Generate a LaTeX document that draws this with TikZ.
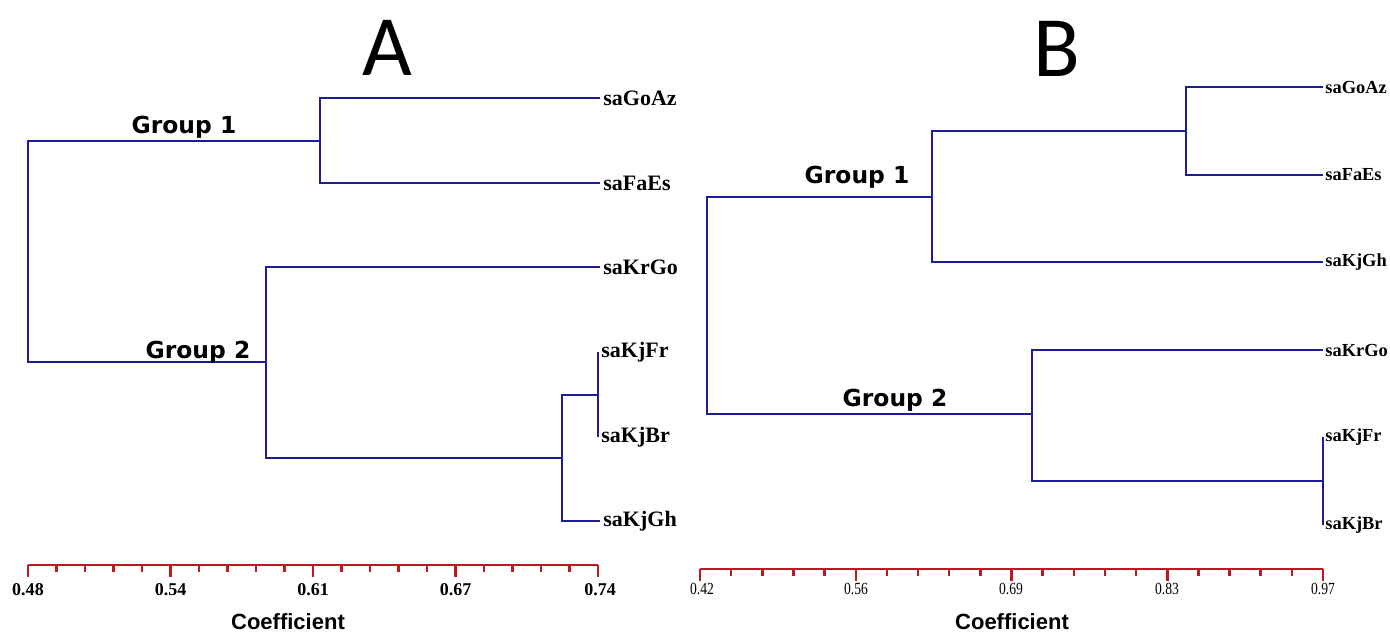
\documentclass[tikz,border=0pt]{standalone}
\usepackage{fontspec}
\usetikzlibrary{calc}
\setmainfont{Liberation Serif}
\newfontfamily\grpfont{DejaVu Sans}
\newfontfamily\titlefont{Carlito}
\newfontfamily\coeffont{Liberation Sans}
\definecolor{treeblue}{RGB}{28,28,150}
\definecolor{axisred}{RGB}{190,25,35}
\begin{document}
\begin{tikzpicture}[x=0.5pt,y=-0.5pt,
  tree/.style={draw=treeblue,line width=1.3pt,line join=miter},
  axisline/.style={draw=axisred,line width=1.25pt},
  leafA/.style={anchor=west,inner xsep=1.5pt,inner ysep=0pt,font=\fontsize{11}{12}\selectfont\bfseries},
  leafB/.style={anchor=west,inner xsep=1pt,inner ysep=0pt,font=\fontsize{9.2}{10}\selectfont\bfseries},
  grp/.style={inner sep=0pt,font=\grpfont\fontsize{11.7}{13}\selectfont\bfseries},
  ticklabA/.style={inner sep=0pt,font=\fontsize{9}{10}\selectfont\bfseries},
  ticklabB/.style={inner sep=0pt,font=\fontsize{8.5}{10}\selectfont},
  coef/.style={inner sep=0pt,font=\coeffont\fontsize{11}{12}\selectfont\bfseries},
  ttl/.style={inner sep=0pt,font=\titlefont\fontsize{43}{48}\selectfont}]
\useasboundingbox (0,0) rectangle (1390,633);
\fill[white] (0,0) rectangle (1390,633);

% ---------------- Panel A ----------------
\node[ttl] (titleA) at (387,48) {A};
\node[leafA] (aGoAz) at (600,98) {saGoAz};
\node[leafA] (aFaEs) at (600,183) {saFaEs};
\node[leafA] (aKrGo) at (600,267) {saKrGo};
\node[leafA] (aKjFr) at (598,352) {saKjFr};
\node[leafA] (aKjBr) at (598,437) {saKjBr};
\node[leafA] (aKjGh) at (600,521) {saKjGh};

\coordinate (a1) at (320,141);
\coordinate (a2) at (266,362);
\coordinate (a3) at (562,458);
\coordinate (a4) at (598,395);
\coordinate (ra) at (28,250);

\draw[tree] (aGoAz.west) -| (a1) |- (aFaEs.west);
\draw[tree] (aKjFr.west) -- (aKjBr.west);
\draw[tree] (a4) -| (a3) |- (aKjGh.west);
\draw[tree] (aKrGo.west) -| (a2) |- (a3);
\draw[tree] (a1) -| (ra) |- (a2);

\node[grp] (gA1) at (184,127) {Group 1};
\node[grp] (gA2) at (198,352) {Group 2};

\coordinate (axA0) at (28,565);
\coordinate (axA1) at (598,565);
\draw[axisline] (axA0) -- (axA1);
\foreach \i in {0,...,20}{
  \pgfmathsetmacro{\len}{ifthenelse(mod(\i,5)==0,12,7)}
  \draw[axisline] ($(axA0)+(28.5*\i,0)$) -- ++(0,\len);
}
\node[ticklabA] (tA0) at (28,590) {0.48};
\node[ticklabA] (tA1) at (170.5,590) {0.54};
\node[ticklabA] (tA2) at (313,590) {0.61};
\node[ticklabA] (tA3) at (455.5,590) {0.67};
\node[ticklabA] (tA4) at (600,590) {0.74};
\node[coef] (coefA) at (288,622) {Coefficient};

% ---------------- Panel B ----------------
\node[ttl] (titleB) at (1057,49) {B};
\node[leafB] (bGoAz) at (1323,87) {saGoAz};
\node[leafB] (bFaEs) at (1323,175) {saFaEs};
\node[leafB] (bKjGh) at (1323,262) {saKjGh};
\node[leafB] (bKrGo) at (1323,350) {saKrGo};
\node[leafB] (bKjFr) at (1323,437) {saKjFr};
\node[leafB] (bKjBr) at (1323,525) {saKjBr};

\coordinate (b1) at (932,197);
\coordinate (b11) at (1186,131);
\coordinate (b2) at (1032,414);
\coordinate (b21) at (1323,481);
\coordinate (rb) at (707,300);

\draw[tree] (bGoAz.west) -| (b11) |- (bFaEs.west);
\draw[tree] (b11) -| (b1) |- (bKjGh.west);
\draw[tree] (bKjFr.west) -- (bKjBr.west);
\draw[tree] (bKrGo.west) -| (b2) |- (b21);
\draw[tree] (b1) -| (rb) |- (b2);

\node[grp] (gB1) at (857,177) {Group 1};
\node[grp] (gB2) at (895,400) {Group 2};

\coordinate (axB0) at (700,569);
\coordinate (axB1) at (1323,569);
\draw[axisline] (axB0) -- (axB1);
\foreach \i in {0,...,20}{
  \pgfmathsetmacro{\len}{ifthenelse(mod(\i,5)==0,12,7)}
  \draw[axisline] ($(axB0)+(31.15*\i,0)$) -- ++(0,\len);
}
\node[ticklabB] (tB0) at (702,589) {\scalebox{0.8}[1]{0.42}};
\node[ticklabB] (tB1) at (856,589) {\scalebox{0.8}[1]{0.56}};
\node[ticklabB] (tB2) at (1011,589) {\scalebox{0.8}[1]{0.69}};
\node[ticklabB] (tB3) at (1167,589) {\scalebox{0.8}[1]{0.83}};
\node[ticklabB] (tB4) at (1323,589) {\scalebox{0.8}[1]{0.97}};
\node[coef] (coefB) at (1012,622) {Coefficient};
\end{tikzpicture}
\end{document}
